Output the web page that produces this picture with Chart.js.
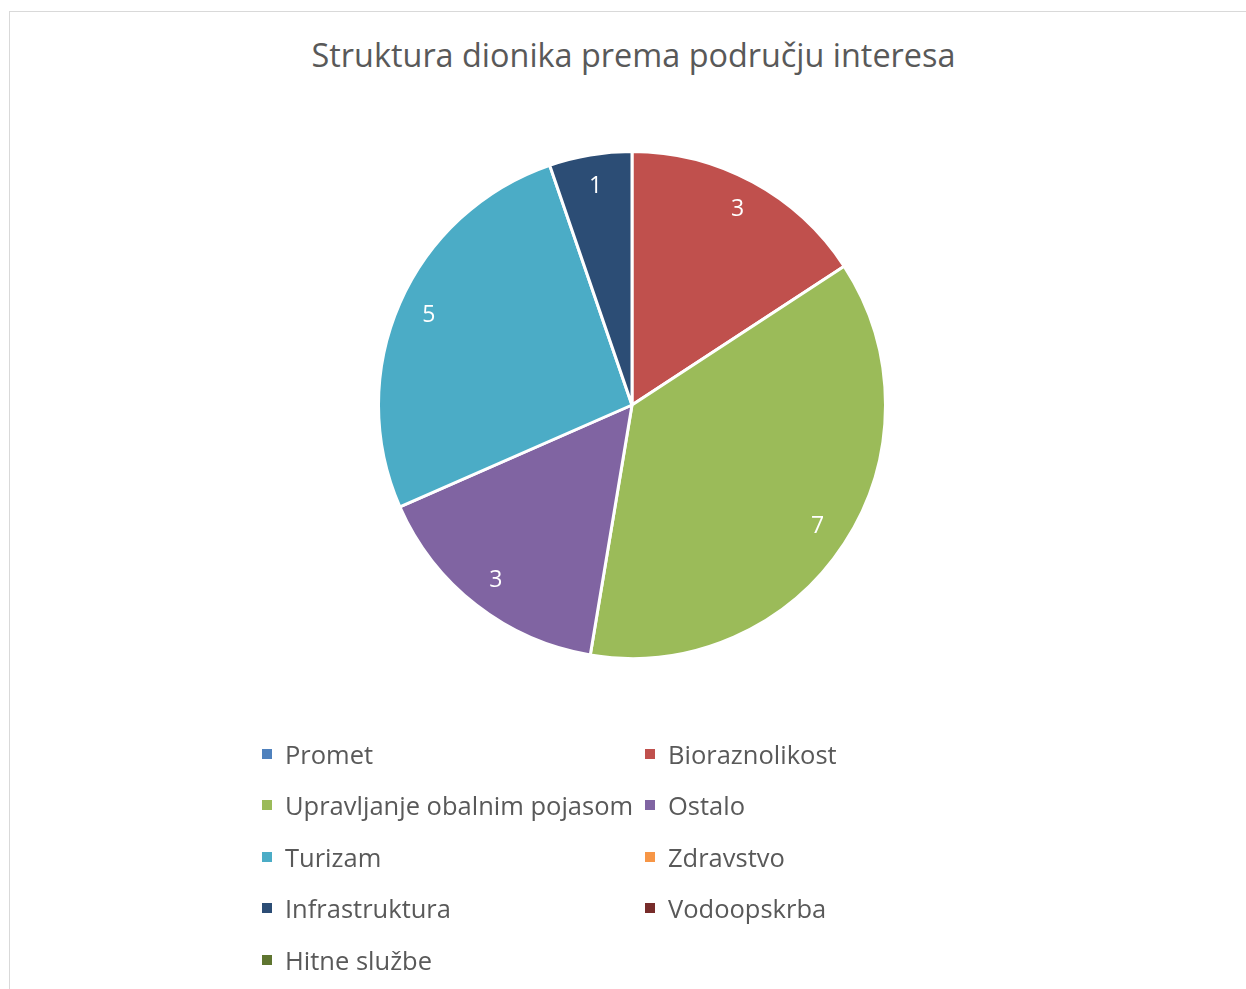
<!DOCTYPE html>
<html>
<head>
<meta charset="utf-8">
<script src="https://cdn.jsdelivr.net/npm/chart.js@4/dist/chart.umd.min.js"></script>
<style>
  html, body { margin: 0; padding: 0; background: #fff; }
  body { width: 1246px; height: 989px; position: relative; overflow: hidden; font-family: "Open Sans", sans-serif; }
  #frame { position: absolute; left: 9px; top: 11px; width: 1300px; height: 1100px; border: 1px solid #d9d9d9; }
  #wrap { position: absolute; left: 0; top: 0; width: 1246px; height: 989px; }
  #title { position: absolute; left: 0; width: 1267px; top: 32px; text-align: center; font-size: 32.4px; line-height: 44px; color: #595959; }
  #legend { position: absolute; left: 262px; top: 728px; display: grid; grid-template-columns: 383px 300px; row-gap: 0; }
  .item { display: flex; align-items: center; height: 51.5px; font-size: 25.5px; color: #595959; white-space: nowrap; }
  .sw { width: 10px; height: 10px; margin-right: 13px; flex: none; }
</style>
</head>
<body>
<div id="frame"></div>
<div id="title"></div>
<div id="wrap"><canvas id="pie" width="1246" height="989"></canvas></div>
<div id="legend"></div>
<script>
var title = "Struktura dionika prema području interesa";
var labels = ["Promet", "Bioraznolikost", "Upravljanje obalnim pojasom", "Ostalo", "Turizam", "Zdravstvo", "Infrastruktura", "Vodoopskrba", "Hitne službe"];
var values = [0, 3, 7, 3, 5, 0, 1, 0, 0];
var colors = ["#4F81BD", "#C0504D", "#9BBB59", "#8064A2", "#4BACC6", "#F79646", "#2C4D75", "#772C2A", "#5F7530"];

document.getElementById("title").textContent = title;

// value labels inside the slices, like excel data labels
var sliceLabels = {
  id: "sliceLabels",
  afterDatasetsDraw: function (chart) {
    var ctx = chart.ctx;
    var meta = chart.getDatasetMeta(0);
    ctx.save();
    ctx.fillStyle = "#ffffff";
    ctx.font = "23px 'Open Sans', sans-serif";
    ctx.textAlign = "center";
    ctx.textBaseline = "middle";
    meta.data.forEach(function (arc, i) {
      if (!values[i]) return;
      var p = arc.getProps(["x", "y", "startAngle", "endAngle", "outerRadius"], true);
      var mid = (p.startAngle + p.endAngle) / 2;
      var r = p.outerRadius * 0.875;
      ctx.fillText(String(values[i]), p.x + Math.cos(mid) * r, p.y + Math.sin(mid) * r);
    });
    ctx.restore();
  }
};

new Chart(document.getElementById("pie").getContext("2d"), {
  type: "pie",
  data: {
    labels: labels,
    datasets: [{
      data: values,
      backgroundColor: colors,
      borderColor: "#ffffff",
      borderWidth: 3
    }]
  },
  options: {
    responsive: false,
    animation: false,
    layout: { padding: { left: 377, right: 359, top: 150, bottom: 329 } },
    plugins: {
      legend: { display: false },
      tooltip: { enabled: false },
      title: { display: false }
    }
  },
  plugins: [sliceLabels]
});

var lg = document.getElementById("legend");
labels.forEach(function (name, i) {
  var d = document.createElement("div");
  d.className = "item";
  d.innerHTML = '<span class="sw" style="background:' + colors[i] + '"></span>' + name;
  lg.appendChild(d);
});
</script>
</body>
</html>
